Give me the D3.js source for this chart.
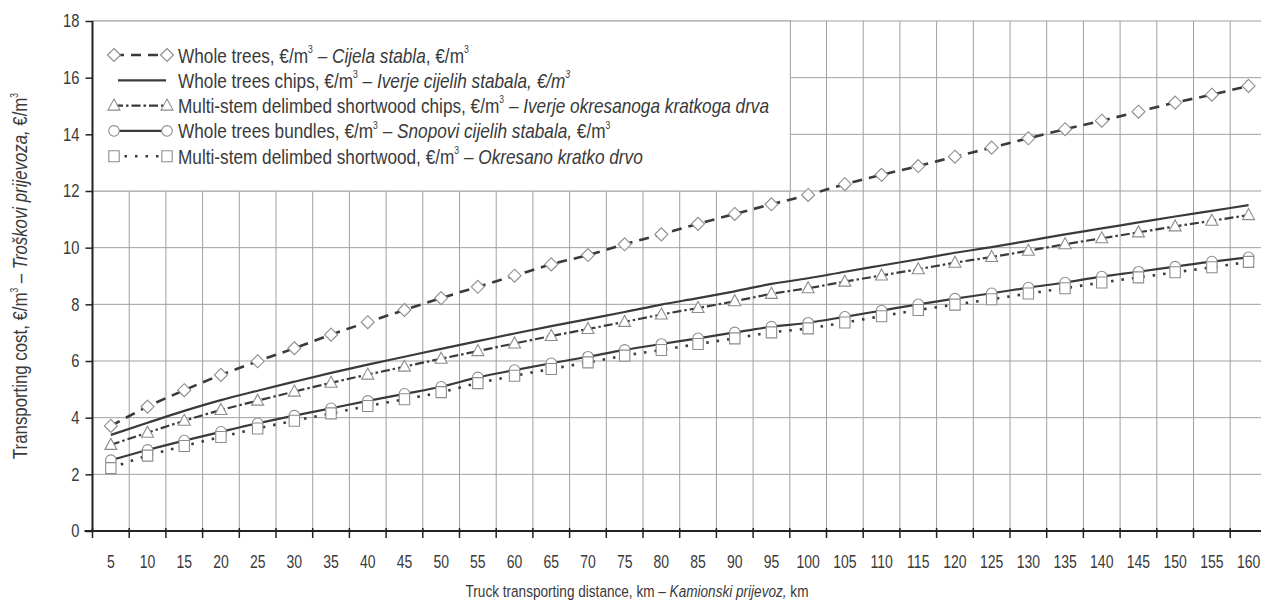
<!DOCTYPE html>
<html>
<head>
<meta charset="utf-8">
<script src="https://cdn.jsdelivr.net/npm/d3@7"></script>
<style>
  html, body { margin: 0; padding: 0; background: #fff; }
  svg { display: block; font-family: "Liberation Sans Narrow", "Arial Narrow", "Liberation Sans", sans-serif; }
</style>
</head>
<body>
<svg id="chart" width="1261" height="604"></svg>
<script>
// Truck transporting distance, km
var distances = [5, 10, 15, 20, 25, 30, 35, 40, 45, 50, 55, 60, 65, 70, 75, 80,
  85, 90, 95, 100, 105, 110, 115, 120, 125, 130, 135, 140, 145, 150, 155, 160];

// Transporting cost, €/m3
var wholeTrees = [3.71, 4.39, 4.97, 5.51, 5.99, 6.45, 6.93, 7.37, 7.80, 8.22, 8.62, 9.01,
  9.41, 9.74, 10.12, 10.47, 10.84, 11.19, 11.53, 11.86, 12.24, 12.57, 12.88, 13.21,
  13.53, 13.86, 14.18, 14.48, 14.80, 15.12, 15.40, 15.71];
var wholeTreeChips = [3.39, 3.82, 4.24, 4.62, 4.95, 5.27, 5.58, 5.87, 6.15, 6.43, 6.70, 6.97,
  7.23, 7.48, 7.73, 7.99, 8.22, 8.46, 8.72, 8.92, 9.15, 9.37, 9.59, 9.82,
  10.02, 10.24, 10.47, 10.68, 10.89, 11.10, 11.30, 11.50];
var shortwoodChips = [3.04, 3.47, 3.89, 4.27, 4.60, 4.92, 5.23, 5.52, 5.80, 6.08, 6.35, 6.62,
  6.88, 7.13, 7.38, 7.64, 7.87, 8.11, 8.37, 8.57, 8.80, 9.02, 9.24, 9.47,
  9.67, 9.89, 10.12, 10.33, 10.54, 10.75, 10.95, 11.15];
var wholeTreeBundles = [2.50, 2.86, 3.19, 3.50, 3.80, 4.07, 4.33, 4.59, 4.84, 5.09, 5.42, 5.68,
  5.92, 6.15, 6.39, 6.60, 6.80, 7.01, 7.21, 7.35, 7.56, 7.78, 8.00, 8.20,
  8.39, 8.59, 8.77, 8.98, 9.15, 9.33, 9.51, 9.66];
var shortwood = [2.22, 2.66, 3.00, 3.32, 3.62, 3.89, 4.15, 4.41, 4.65, 4.90, 5.22, 5.48,
  5.72, 5.95, 6.19, 6.39, 6.60, 6.80, 7.01, 7.15, 7.36, 7.58, 7.80, 7.99,
  8.18, 8.38, 8.57, 8.77, 8.95, 9.13, 9.31, 9.50];

var yTicks = [0, 2, 4, 6, 8, 10, 12, 14, 16, 18];

// Legend labels: [text, italic, superscript]
var legendLabels = [
  [['Whole trees, €/m', 0, 0], ['3', 0, 1], ['  – ', 0, 0], ['Cijela stabla', 1, 0], [', €/m', 0, 0], ['3', 0, 1]],
  [['Whole trees chips, €/m', 0, 0], ['3', 0, 1], [' – ', 0, 0], ['Iverje cijelih stabala, €/m', 1, 0], ['3', 1, 1]],
  [['Multi-stem delimbed shortwood chips, €/m', 0, 0], ['3', 0, 1], ['  – ', 0, 0], ['Iverje okresanoga kratkoga drva', 1, 0]],
  [['Whole trees bundles, €/m', 0, 0], ['3', 0, 1], [' – ', 0, 0], ['Snopovi cijelih stabala,', 1, 0], [' €/m', 0, 0], ['3', 0, 1]],
  [['Multi-stem delimbed shortwood, €/m', 0, 0], ['3', 0, 1], ['  – ', 0, 0], ['Okresano kratko drvo', 1, 0]]
];
var yTitle = [['Transporting cost, €/m', 0, 0], ['3', 0, 1], [' – ', 0, 0], ['Troškovi prijevoza,', 1, 0], [' €/m', 0, 0], ['3', 0, 1]];
var xTitle = [['Truck transporting distance, km – ', 0, 0], ['Kamionski prijevoz,', 1, 0], [' km', 0, 0]];

var lineColor = '#3a3a3a';
var markColor = '#8c8c8c';
var textColor = '#3a3a3a';
var narrow = 0.82; // no narrow font installed: squeeze text horizontally

var series = [
  { values: wholeTrees, dash: '10,7', width: 2.6, marker: 'diamond' },
  { values: wholeTreeChips, dash: null, width: 2.2, marker: null },
  { values: shortwoodChips, dash: '9,3,2.5,3', width: 2.2, marker: 'triangle' },
  { values: wholeTreeBundles, dash: null, width: 2.2, marker: 'circle' },
  { values: shortwood, dash: '2.5,8', width: 2.6, marker: 'square' }
];

var markers = {
  diamond: 'M0,-6.5L6.5,0L0,6.5L-6.5,0Z',
  triangle: 'M0,-6.5L6,4.5L-6,4.5Z',
  circle: 'M5.3,0A5.3,5.3 0 1,1 -5.3,0A5.3,5.3 0 1,1 5.3,0Z',
  square: 'M-5.2,-5.5H5.2V5.5H-5.2Z'
};

var svg = d3.select('#chart');
var plotLeft = 92.5, plotBottom = 531, plotTop = 21;

var x = d3.scaleBand().domain(distances).range([plotLeft, plotLeft + 36.7 * distances.length]).padding(0);
var y = d3.scaleLinear().domain([0, 18]).range([plotBottom, plotTop]);

function addText(sel, parts, size) {
  parts.forEach(function (p) {
    var t = sel.append('tspan')
      .attr('font-style', p[1] ? 'italic' : 'normal')
      .text(p[0]);
    if (p[2]) {
      t.attr('font-size', size * 0.5).attr('baseline-shift', size * 0.45);
    } else {
      t.attr('font-size', size);
    }
  });
  return sel;
}

// Grid
var grid = svg.append('g').attr('stroke', '#a0a0a0').attr('stroke-width', 1);
grid.selectAll('.hgrid')
  .data(yTicks.slice(1))
  .enter()
  .append('line')
  .attr('x1', plotLeft).attr('x2', 1261)
  .attr('y1', function (d) { return y(d); })
  .attr('y2', function (d) { return y(d); });
grid.selectAll('.vgrid')
  .data(distances.slice(1))
  .enter()
  .append('line')
  .attr('x1', function (d) { return x(d); })
  .attr('x2', function (d) { return x(d); })
  .attr('y1', plotTop).attr('y2', plotBottom);

// Legend box covers the grid in the upper left
svg.append('rect')
  .attr('x', plotLeft).attr('y', plotTop)
  .attr('width', x(100) + 0.5 - plotLeft)
  .attr('height', y(12) - plotTop)
  .attr('fill', '#fff')
  .attr('stroke', '#a0a0a0')
  .attr('stroke-width', 1);

// Axes
var yAxis = svg.append('g')
  .attr('transform', 'translate(' + plotLeft + ',0)')
  .call(d3.axisLeft(y).tickValues(yTicks).tickSize(7).tickPadding(6).tickFormat(d3.format('d')));
yAxis.select('.domain').attr('stroke', '#222').attr('stroke-width', 2).attr('d', 'M0,' + plotTop + 'V' + plotBottom);
yAxis.selectAll('.tick line').attr('stroke', '#222').attr('stroke-width', 1.5);
yAxis.selectAll('.tick text')
  .attr('fill', textColor).attr('font-size', 18).attr('font-family', null)
  .attr('x', -13 / narrow)
  .attr('transform', 'scale(' + narrow + ',1)');

var xAxis = svg.append('g')
  .attr('transform', 'translate(0,' + plotBottom + ')')
  .call(d3.axisBottom(x).tickSize(0).tickPadding(25));
xAxis.select('.domain').attr('stroke', '#222').attr('stroke-width', 2).attr('d', 'M' + (plotLeft - 8) + ',0H1261');
xAxis.selectAll('.tick text')
  .attr('fill', textColor).attr('font-size', 17.5).attr('font-family', null)
  .attr('transform', 'scale(0.8,1)');
xAxis.selectAll('.xtick')
  .data(distances)
  .enter()
  .append('line')
  .attr('x1', function (d) { return x(d); })
  .attr('x2', function (d) { return x(d); })
  .attr('y1', -3).attr('y2', 7)
  .attr('stroke', '#222').attr('stroke-width', 1.5);

// Axis titles
addText(svg.append('text')
  .attr('transform', 'translate(637,597) scale(0.8,1)')
  .attr('text-anchor', 'middle')
  .attr('fill', textColor), xTitle, 17);
addText(svg.append('text')
  .attr('transform', 'translate(27,276) rotate(-90) scale(' + narrow + ',1)')
  .attr('text-anchor', 'middle')
  .attr('fill', textColor), yTitle, 20.5);

// Lines
var line = d3.line()
  .x(function (d, i) { return x(distances[i]) + x.bandwidth() / 2; })
  .y(function (d) { return y(d); })
  .curve(d3.curveMonotoneX);

var plot = svg.append('g');
series.forEach(function (s) {
  plot.append('path')
    .datum(s.values)
    .attr('d', line)
    .attr('fill', 'none')
    .attr('stroke', lineColor)
    .attr('stroke-width', s.width)
    .attr('stroke-dasharray', s.dash);
});

// Markers (squares drawn last so they sit over the circles)
series.forEach(function (s) {
  if (!s.marker) return;
  plot.selectAll('.m-' + s.marker)
    .data(s.values)
    .enter()
    .append('path')
    .attr('class', 'm-' + s.marker)
    .attr('transform', function (d, i) {
      return 'translate(' + (x(distances[i]) + x.bandwidth() / 2) + ',' + y(d) + ')';
    })
    .attr('d', markers[s.marker])
    .attr('fill', '#fff')
    .attr('stroke', markColor)
    .attr('stroke-width', 1.1);
});

// Legend entries
var legend = svg.append('g');
series.forEach(function (s, i) {
  var ly = 55 + i * 25.3;
  var row = legend.append('g').attr('transform', 'translate(0,' + ly + ')');
  var x1 = s.marker ? 114 : 118, x2 = s.marker ? 167 : 166;
  row.append('line')
    .attr('x1', x1).attr('x2', x2)
    .attr('stroke', lineColor)
    .attr('stroke-width', s.width)
    .attr('stroke-dasharray', s.dash);
  if (s.marker) {
    [x1, x2].forEach(function (mx) {
      row.append('path')
        .attr('transform', 'translate(' + mx + ',0)')
        .attr('d', markers[s.marker])
        .attr('fill', '#fff')
        .attr('stroke', markColor)
        .attr('stroke-width', 1.1);
    });
  }
  addText(row.append('text')
    .attr('transform', 'translate(178,7.5) scale(' + narrow + ',1)')
    .attr('fill', textColor), legendLabels[i], 21);
});
</script>
</body>
</html>
